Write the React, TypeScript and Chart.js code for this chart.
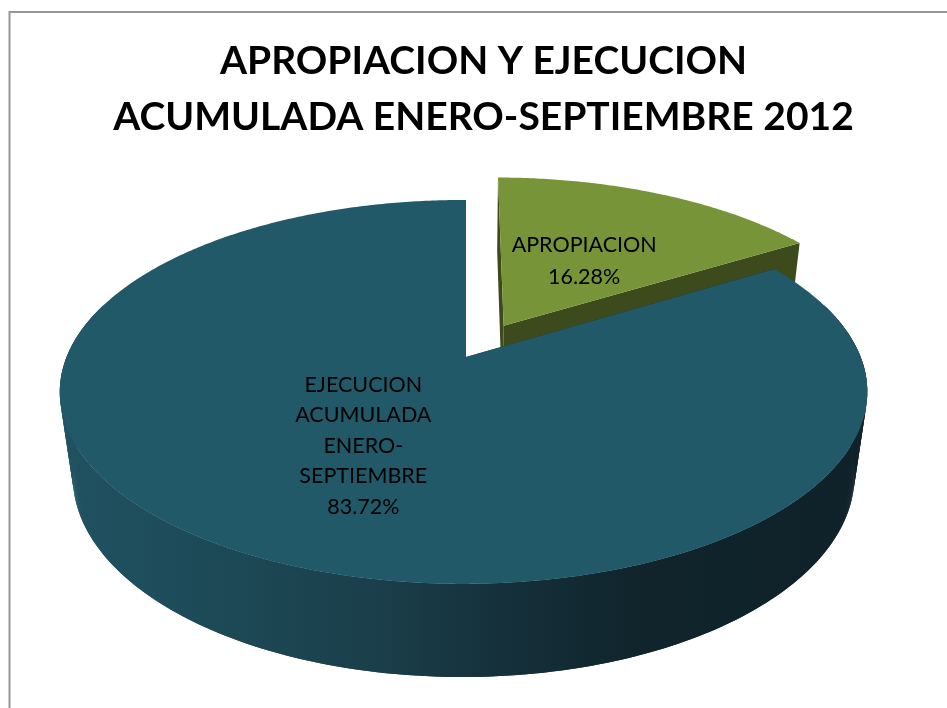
import React, { useEffect, useRef } from "react";
import { Chart, registerables } from "chart.js";

Chart.register(...registerables);

const titleLines = ["APROPIACION Y EJECUCION", "ACUMULADA ENERO-SEPTIEMBRE 2012"];
const categories = ["APROPIACION", "EJECUCION ACUMULADA ENERO-SEPTIEMBRE"];
const labelLines = [["APROPIACION"], ["EJECUCION", "ACUMULADA", "ENERO-", "SEPTIEMBRE"]];
const values = [16.28, 83.72];
const topColors = ["#779439", "#215968"];
const explode = [0.2, 0];

// perspective view of the pie plane
const view = { x0: 466, y0: 357, b: 397, a: 185.6, k: 0.182, j: 0.006, m: 0.032, depth: 86.4 };
const labelNudge = [
  { dx: -4, dy: 6, lh: 32 },
  { dx: 3, dy: 1, lh: 30.5 },
];

function project(u: number, v: number, z: number) {
  const w = 1 - view.k * v + view.j * u + view.m * z;
  return { x: view.x0 + (view.b * u) / w, y: view.y0 + (view.a * v + view.depth * z) / w };
}

function sampleAngles(start: number, end: number) {
  const n = Math.max(2, Math.ceil((end - start) / 0.01));
  const out: number[] = [];
  for (let i = 0; i <= n; i++) out.push(start + ((end - start) * i) / n);
  return out;
}

const pie3d = {
  id: "pie3d",
  beforeDraw(chart: any) {
    const { ctx, width, height } = chart;
    ctx.save();
    ctx.fillStyle = "#ffffff";
    ctx.fillRect(0, 0, width, height);
    ctx.strokeStyle = "#969696";
    ctx.lineWidth = 2;
    ctx.strokeRect(9.5, 12, width + 20, height + 20);
    ctx.restore();
  },
  beforeDatasetDraw(chart: any) {
    const ctx = chart.ctx;
    const arcs = chart.getDatasetMeta(0).data;
    const rim = ctx.createLinearGradient(60, 0, 867, 0);
    rim.addColorStop(0, "#205261");
    rim.addColorStop(0.2, "#1d4956");
    rim.addColorStop(0.4, "#1a3e4a");
    rim.addColorStop(0.55, "#15303a");
    rim.addColorStop(0.72, "#10242b");
    rim.addColorStop(1, "#0f2229");
    const sideColors = ["#3c4a1c", rim];
    arcs.forEach((arc: any, i: number) => {
      const mid = (arc.startAngle + arc.endAngle) / 2;
      const ou = Math.cos(mid) * explode[i];
      const ov = Math.sin(mid) * explode[i];
      const pt = (a: number, r: number, z: number) =>
        project(ou + r * Math.cos(a), ov + r * Math.sin(a), z);
      const angles = sampleAngles(arc.startAngle, arc.endAngle);
      ctx.save();
      ctx.fillStyle = sideColors[i];
      const poly = (pts: any[]) => {
        ctx.beginPath();
        pts.forEach((p, n) => (n ? ctx.lineTo(p.x, p.y) : ctx.moveTo(p.x, p.y)));
        ctx.closePath();
        ctx.fill();
      };
      [arc.startAngle, arc.endAngle].forEach((a: number) =>
        poly([pt(a, 0, 0), pt(a, 1, 0), pt(a, 1, 1), pt(a, 0, 1)])
      );
      // the rim: only the part that can rise past the top face, in overlapping strips
      const front = angles.filter((a) => Math.sin(a) >= -0.3);
      for (let j = 0; j + 2 < front.length; j++) {
        poly([pt(front[j], 1, 0), pt(front[j + 2], 1, 0), pt(front[j + 2], 1, 1), pt(front[j], 1, 1)]);
      }
      ctx.fillStyle = arc.options.backgroundColor;
      poly([pt(0, 0, 0), ...angles.map((a) => pt(a, 1, 0))]);
      ctx.restore();
    });
    return false;
  },
  afterDatasetsDraw(chart: any) {
    const ctx = chart.ctx;
    const arcs = chart.getDatasetMeta(0).data;
    ctx.save();
    ctx.fillStyle = "#000000";
    ctx.font = "21.5px Lato";
    ctx.textAlign = "center";
    ctx.textBaseline = "middle";
    arcs.forEach((arc: any, i: number) => {
      const mid = (arc.startAngle + arc.endAngle) / 2;
      const r = explode[i] + 0.5;
      const p = project(r * Math.cos(mid), r * Math.sin(mid), 0);
      const lines = [...labelLines[i], values[i].toFixed(2) + "%"];
      const { dx, dy, lh } = labelNudge[i];
      lines.forEach((t, j) => {
        ctx.fillText(t, p.x + dx, p.y + dy + (j - (lines.length - 1) / 2) * lh);
      });
    });
    ctx.restore();
  },
};

export default function App() {
  const ref = useRef<HTMLCanvasElement>(null);
  useEffect(() => {
    const chart = new Chart(ref.current as HTMLCanvasElement, {
      type: "pie",
      data: {
        labels: categories,
        datasets: [{ data: values, backgroundColor: topColors, borderWidth: 0 }],
      },
      options: {
        animation: false,
        responsive: false,
        events: [],
        layout: { padding: { left: 20, top: 33 } },
        plugins: {
          legend: { display: false },
          tooltip: { enabled: false },
          title: {
            display: true,
            text: titleLines,
            color: "#000000",
            font: { family: "Lato", size: 39, weight: "bold", lineHeight: 1.436 },
            padding: 0,
          },
        },
      },
      plugins: [pie3d],
    } as any);
    return () => chart.destroy();
  }, []);
  return (
    <canvas
      ref={ref}
      width={947}
      height={708}
      style={{ position: "fixed", left: 0, top: 0, width: 947, height: 708, display: "block" }}
    />
  );
}
